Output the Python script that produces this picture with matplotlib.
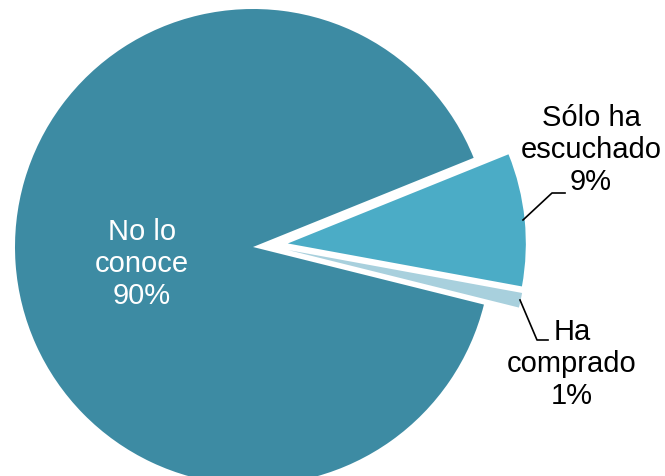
import matplotlib
matplotlib.use("Agg")
import matplotlib.pyplot as plt

categories = ["Sólo ha\nescuchado", "Ha\ncomprado", "No lo\nconoce"]
values = [9, 1, 90]
colors = ["#4BACC6", "#A8D0DD", "#3D8BA3"]

W, H = 665, 476
R = 238
cx, cy = 253, H - 247
explode = [35, 0, 0.0]
fig = plt.figure(figsize=(W / 100, H / 100), dpi=100)
ax = fig.add_axes([0, 0, 1, 1])
wedges, _ = ax.pie(values, colors=colors, explode=explode, startangle=22,
                   counterclock=False, center=(cx, cy), radius=R,
                   wedgeprops=dict(linewidth=0), frame=False)
# pull the small "Ha comprado" slice out alongside the 9% slice
wedges[1].set_center((cx + 35, cy - 3))
ax.set_xlim(0, W)
ax.set_ylim(0, H)
ax.set_aspect("equal")
ax.axis("off")

font = ["Liberation Sans", "DejaVu Sans"]
fs = 21
ls = 1.2
# labels
ax.text(142, H - 264, f"{categories[2]}\n{values[2]}%", color="white",
        ha="center", va="center", fontsize=fs, family=font, linespacing=ls)
ax.text(591, H - 150, f"{categories[0]}\n{values[0]}%", color="black",
        ha="center", va="center", fontsize=fs, family=font, linespacing=ls)
ax.text(572, H - 364, f"{categories[1]}\n{values[1]}%", color="black",
        ha="center", va="center", fontsize=fs, family=font, linespacing=ls)

# leader lines
ax.plot([523, 552, 565], [H - 220, H - 193, H - 193], color="black", lw=1.2)
ax.plot([520, 537, 548], [H - 300, H - 340, H - 340], color="black", lw=1.2)

fig.savefig("out.png", dpi=100)
